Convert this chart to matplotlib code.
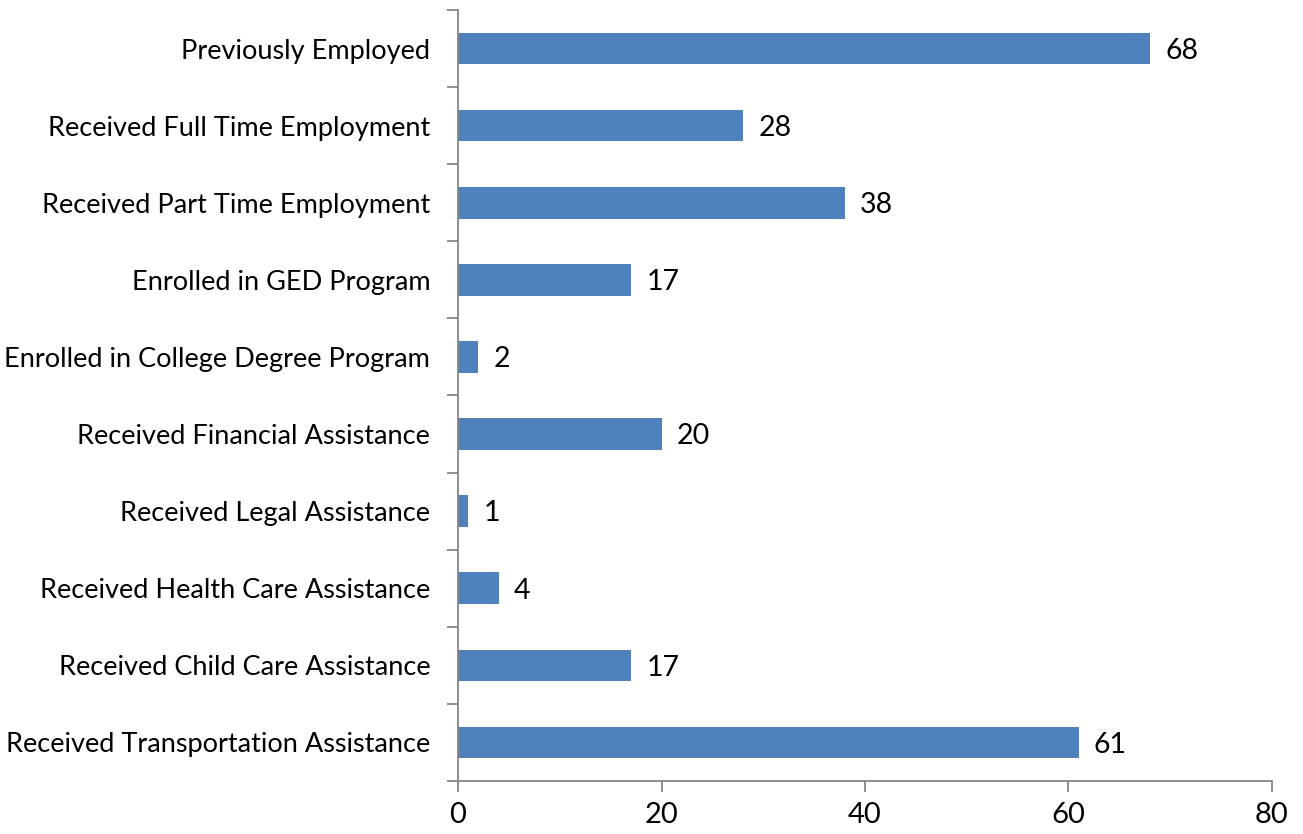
import numpy as np
import matplotlib.pyplot as plt

# Outcome categories (top to bottom) and participant counts
categories = [
    'Previously Employed',
    'Received Full Time Employment',
    'Received Part Time Employment',
    'Enrolled in GED Program',
    'Enrolled in College Degree Program',
    'Received Financial Assistance',
    'Received Legal Assistance',
    'Received Health Care Assistance',
    'Received Child Care Assistance',
    'Received Transportation Assistance',
]
counts = [68, 28, 38, 17, 2, 20, 1, 4, 17, 61]
x_ticks = [0, 20, 40, 60, 80]

plt.rcParams['font.family'] = ['Lato', 'DejaVu Sans']
axis_grey = '#868686'

fig = plt.figure(figsize=(13.03, 8.34), dpi=100)
ax = fig.add_axes([0.3515, 0.0636, 0.6247, 0.9244])

y = np.arange(len(categories))[::-1]
ax.barh(y, counts, height=0.41, color='#4F81BD')

for yi, c in zip(y, counts):
    ax.text(c + 1.5, yi - 0.03, str(c), va='center', ha='left', fontsize=20.5)

ax.set_xlim(0, 80)
ax.set_ylim(-0.5, len(categories) - 0.5)
ax.set_xticks(x_ticks)
ax.set_xticklabels([str(t) for t in x_ticks], fontsize=21)

# category labels sit between the boundary tick marks
ax.set_yticks(np.arange(-0.5, len(categories)), minor=False)
ax.set_yticklabels([])
ax.set_yticks(y, minor=True)
ax.set_yticklabels(categories, minor=True, fontsize=19.5)
ax.tick_params(axis='y', which='minor', length=0, pad=20)
ax.tick_params(axis='y', which='major', length=8, width=1.3, color=axis_grey)
ax.tick_params(axis='x', length=8, width=1.3, color=axis_grey, pad=7)

for side in ['top', 'right']:
    ax.spines[side].set_visible(False)
for side in ['left', 'bottom']:
    ax.spines[side].set_color(axis_grey)
    ax.spines[side].set_linewidth(1.3)

plt.savefig('out.png', dpi=100)
